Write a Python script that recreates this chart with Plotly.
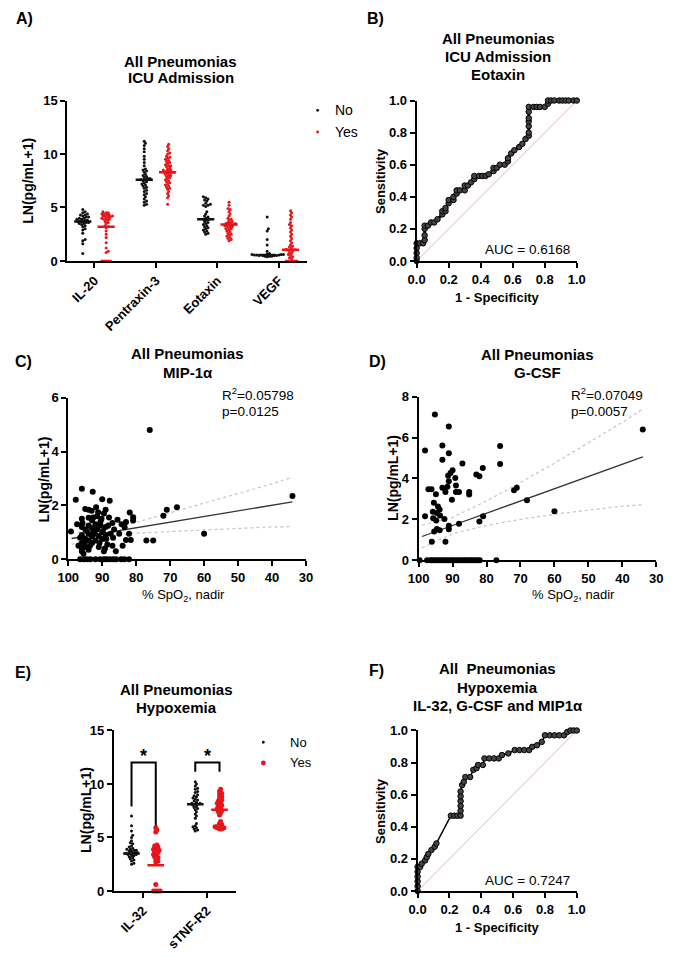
import plotly.graph_objects as go

W, H = 677, 958
FONT = "Liberation Sans"

# ---------------- Panel A: ICU admission, scatter dot plots ----------------
a_categories = ["IL-20", "Pentraxin-3", "Eotaxin", "VEGF"]
a_il20_no = [4.8, 4.6, 4.5, 4.4, 4.3, 4.3, 4.2, 4.1, 4.1, 4.0, 4.0, 3.9, 3.9, 3.8, 3.8, 3.7, 3.7, 3.7,
             3.6, 3.6, 3.5, 3.5, 3.4, 3.3, 3.2, 3.0, 2.9, 2.6, 2.0, 1.9, 1.6, 0.7]
a_il20_yes = [4.6, 4.5, 4.5, 4.4, 4.4, 4.3, 4.3, 4.2, 4.2, 4.2, 4.1, 4.1, 4.0, 4.0, 3.9, 3.9, 3.8, 3.7,
              3.6, 3.5, 3.3, 3.2, 3.1, 2.8, 2.5, 2.2, 1.7, 1.2, 0.9, 0.8, 0, 0, 0, 0, 0]
a_ptx3_no = [11.2, 11.0, 10.8, 10.5, 10.2, 9.8, 9.5, 9.2, 8.9, 8.6, 8.5, 8.4, 8.3, 8.1, 8.0, 7.9, 7.8,
             7.7, 7.7, 7.6, 7.6, 7.5, 7.4, 7.3, 7.2, 7.1, 7.0, 6.9, 6.8, 6.6, 6.5, 6.3, 6.2, 6.0, 5.8,
             5.6, 5.5, 5.3, 5.2]
a_ptx3_yes = [10.9, 10.7, 10.5, 10.3, 10.1, 10.0, 9.8, 9.7, 9.6, 9.5, 9.4, 9.3, 9.2, 9.1, 9.0, 8.9, 8.9,
              8.8, 8.7, 8.6, 8.5, 8.5, 8.4, 8.4, 8.3, 8.3, 8.3, 8.2, 8.2, 8.1, 8.0, 8.0, 7.9, 7.8, 7.7,
              7.6, 7.5, 7.4, 7.3, 7.2, 7.1, 7.0, 6.9, 6.8, 6.7, 6.5, 6.3, 6.1, 5.9, 5.3]
a_eotaxin_no = [6.0, 5.9, 5.8, 5.7, 5.6, 5.4, 5.3, 5.2, 5.2, 5.1, 4.6, 4.4, 4.2, 4.1, 4.0, 3.9, 3.9, 3.8,
                3.7, 3.6, 3.5, 3.4, 3.3, 3.2, 3.1, 3.0, 2.9, 2.8, 2.7, 2.6, 2.5]
a_eotaxin_yes = [5.5, 5.2, 4.9, 4.8, 4.6, 4.4, 4.2, 4.0, 3.9, 3.8, 3.7, 3.6, 3.6, 3.5, 3.5, 3.4, 3.4, 3.4,
                 3.3, 3.3, 3.2, 3.2, 3.1, 3.0, 3.0, 2.9, 2.8, 2.7, 2.6, 2.5, 2.4, 2.3, 2.2, 2.1, 2.0, 1.9]
a_vegf_no = [4.1, 3.0, 2.8, 2.0, 1.5, 0.9, 0.7, 0.65, 0.6, 0.6, 0.6, 0.55, 0.55, 0.55, 0.5, 0.5, 0.5,
             0.5, 0.45, 0.45, 0.45, 0.4]
a_vegf_yes = [4.7, 4.5, 4.3, 4.1, 3.9, 3.6, 3.4, 3.3, 3.1, 2.9, 2.7, 2.5, 2.3, 2.1, 1.9, 1.7, 1.5, 1.4,
              1.3, 1.2, 1.1, 1.05, 1.0, 1.0, 0.9, 0.8, 0.7, 0.6, 0.5, 0.4, 0.3, 0.2, 0, 0, 0, 0, 0, 0]
a_no_median = [3.7, 7.6, 3.9, 0.55]
a_yes_median = [3.2, 8.3, 3.4, 1.05]

# ---------------- Panel B: ROC Eotaxin ----------------
b_fpr = [0, 0, 0, 0, 0, 0.02, 0.04, 0.05, 0.05, 0.05, 0.05, 0.07, 0.09, 0.11, 0.13, 0.16, 0.16, 0.18,
         0.18, 0.20, 0.20, 0.23, 0.23, 0.25, 0.25, 0.27, 0.30, 0.30, 0.32, 0.34, 0.36, 0.36, 0.39, 0.41,
         0.43, 0.45, 0.48, 0.48, 0.50, 0.52, 0.55, 0.57, 0.57, 0.59, 0.61, 0.64, 0.66, 0.68, 0.70, 0.70,
         0.70, 0.70, 0.70, 0.70, 0.70, 0.73, 0.75, 0.77, 0.80, 0.82, 0.82, 0.84, 0.86, 0.89, 0.91, 0.93,
         0.95, 0.98, 1.0]
b_tpr = [0, 0.02, 0.05, 0.08, 0.11, 0.11, 0.11, 0.13, 0.16, 0.20, 0.22, 0.22, 0.24, 0.24, 0.26, 0.29,
         0.31, 0.31, 0.33, 0.36, 0.38, 0.38, 0.40, 0.42, 0.44, 0.44, 0.44, 0.47, 0.47, 0.49, 0.51, 0.53,
         0.53, 0.53, 0.53, 0.54, 0.56, 0.58, 0.58, 0.60, 0.60, 0.62, 0.64, 0.67, 0.69, 0.71, 0.73, 0.76,
         0.78, 0.80, 0.84, 0.87, 0.89, 0.93, 0.96, 0.96, 0.96, 0.96, 0.96, 0.98, 1.0, 1.0, 1.0, 1.0,
         1.0, 1.0, 1.0, 1.0, 1.0]
b_auc = "AUC = 0.6168"

# ---------------- Panel C: MIP-1a vs SpO2 ----------------
c_spo2 = [76, 34, 72, 71, 68, 60, 77, 75,
          99.2, 97.8, 97.4, 96, 96, 96, 96, 96, 96, 96, 95.5, 95, 95, 95, 95, 94, 94, 94, 94, 94, 94,
          93.1, 93, 93, 93, 93, 92.8, 92.5, 92, 92, 91.8, 91.5, 91.5, 91, 91, 90.5, 90.5, 90, 90, 90,
          89.5, 89.5, 89, 89, 89, 88.5, 88, 87.8, 87.5, 87, 87, 86.5, 86, 85.5, 85, 84.3, 84, 83.4, 83,
          83, 82.1, 81.9, 81.6, 80.9, 80.9,
          97, 96.5, 95.8, 95.2, 94.6, 93.6, 92.6, 92.2, 91.2, 90.8, 90.2, 89.8, 89.2, 88.2, 88.8, 86.8]
c_mip = [4.8, 2.35, 1.62, 1.84, 1.93, 0.95, 0.7, 0.7,
         1.03, 2.21, 1.3, 2.62, 1.5, 1.2, 0.9, 0.6, 0.4, 0.3, 0.2, 1.87, 1.1, 0.75, 0.45, 1.84, 1.54,
         1.25, 0.95, 0.7, 0.35, 1.8, 1.45, 1.15, 0.85, 0.6, 2.51, 1.0, 1.3, 0.7, 1.93, 1.6, 1.1, 0.85,
         0.45, 1.4, 1.25, 2.23, 1.0, 0.75, 1.7, 0.3, 1.84, 1.2, 0.9, 0.55, 1.55, 2.17, 0.95, 1.35, 0.5,
         1.1, 0.3, 1.47, 0.95, 1.3, 0.5, 1.19, 1.38, 0.71, 0.95, 1.74, 0.71, 1.56, 1.44,
         0.5, 0.8, 1.35, 0.6, 1.05, 0.5, 1.55, 0.95, 1.75, 0.6, 1.5, 1.05, 0.4, 1.25, 0.75, 0.8]
c_zero_spo2 = [96.5, 95.4, 94.5, 93.5, 92, 90.6, 89.5, 88.7, 87.8, 86.8, 85.9, 84.5, 83.5, 82.1]
c_fit_x = [99, 90, 80, 70, 60, 50, 40, 34]
c_fit_y = [0.77, 0.96, 1.17, 1.38, 1.59, 1.80, 2.00, 2.13]
c_ci_hi = [0.99, 1.08, 1.37, 1.73, 2.09, 2.45, 2.80, 3.05]
c_ci_lo = [0.55, 0.84, 0.97, 1.03, 1.09, 1.15, 1.20, 1.21]
c_stats = ["R<sup>2</sup>=0.05798", "p=0.0125"]

# ---------------- Panel D: G-CSF vs SpO2 ----------------
d_spo2 = [95.2, 91.1, 98.1, 93.0, 91.1, 93.0, 76.0, 76.0, 87.1, 81.1, 83.0, 82.1, 90.0, 90.6, 91.3,
          89.2, 91.1, 97.1, 96.2, 93.0, 91.5, 89.0, 92.1, 89.0, 88.1, 85.1, 85.1, 94.9, 90.2, 71.9,
          71.1, 68.1, 34.0, 60.0, 95.5, 94.3, 93.8, 94.6, 95.8, 93.7, 92.4, 95.7, 94.8, 98.1, 81.0,
          82.1, 88.1, 91.1, 91.1, 94.6, 93.8, 95.4, 96.1, 92.1]
d_gcsf = [7.13, 6.55, 5.37, 5.61, 5.24, 4.92, 5.59, 4.71, 4.73, 4.51, 4.19, 4.11, 4.40, 4.27, 4.14,
          4.03, 3.87, 3.47, 3.47, 3.55, 3.60, 3.66, 3.34, 3.34, 3.34, 3.34, 3.22, 3.23, 2.96, 3.42,
          3.55, 2.94, 6.40, 2.40, 2.81, 2.63, 2.48, 2.31, 2.37, 2.19, 2.02, 2.06, 1.94, 2.15, 2.15,
          1.90, 1.78, 1.69, 1.51, 1.53, 1.47, 1.40, 0.90, 0.90]
d_zero_spo2 = [99.7, 97.5, 96.5, 96, 95.3, 94.6, 94, 93.3, 92.6, 92, 91.3, 90.6, 90, 89.3, 88.6, 88,
               87.3, 86.6, 86, 85.3, 84.6, 84, 83.3, 82.6, 82, 77.1]
d_fit_x = [99, 90, 80, 70, 60, 50, 40, 34]
d_fit_y = [1.16, 1.70, 2.30, 2.90, 3.50, 4.10, 4.70, 5.06]
d_ci_hi = [1.71, 2.10, 2.90, 3.80, 4.75, 5.75, 6.75, 7.41]
d_ci_lo = [0.61, 1.30, 1.70, 2.00, 2.25, 2.45, 2.65, 2.71]
d_stats = ["R<sup>2</sup>=0.07049", "p=0.0057"]

# ---------------- Panel E: Hypoxemia dot plots ----------------
e_categories = ["IL-32", "sTNF-R2"]
e_il32_no = [7.0, 6.1, 5.6, 5.2, 5.0, 4.7, 4.5, 4.4, 4.2, 4.1, 4.0, 3.9, 3.9, 3.8, 3.8, 3.7, 3.7, 3.6,
             3.6, 3.5, 3.5, 3.5, 3.4, 3.4, 3.3, 3.3, 3.2, 3.1, 3.0, 2.9, 2.8, 2.6, 2.5]
e_il32_yes = [5.9, 5.7, 5.5, 4.3, 4.2, 4.1, 4.0, 3.9, 3.8, 3.8, 3.7, 3.6, 3.5, 3.4, 3.3, 3.2, 3.1, 3.0,
              2.8, 2.7, 0.6, 0, 0, 0, 0]
e_stnf_no = [10.2, 10.0, 9.8, 9.6, 9.5, 9.3, 9.2, 9.0, 8.9, 8.8, 8.7, 8.6, 8.5, 8.4, 8.3, 8.2, 8.2,
             8.1, 8.1, 8.0, 7.9, 7.8, 7.7, 7.6, 7.4, 7.2, 7.0, 6.8, 6.3, 6.1, 6.0, 5.9, 5.8, 5.7, 5.6]
e_stnf_yes = [9.5, 9.3, 9.1, 9.0, 8.8, 8.7, 8.5, 8.4, 8.3, 8.2, 8.1, 8.0, 7.9, 7.8, 7.7, 7.6, 7.5, 7.4,
              7.3, 7.1, 6.5, 6.3, 6.2, 6.1, 6.0, 6.0, 5.9, 5.9, 5.8, 5.8]
e_no_median = [3.5, 8.1]
e_yes_median = [2.4, 7.6]
e_bracket_top = [12.0, 12.0]
e_bracket_no_end = [7.9, 11.15]
e_bracket_yes_end = [6.1, 11.15]
e_signif = ["*", "*"]

# ---------------- Panel F: ROC combined ----------------
f_fpr = [0, 0, 0, 0, 0, 0, 0.016, 0.026, 0.047, 0.057, 0.067, 0.087, 0.107, 0.118, 0.209, 0.23, 0.25,
         0.27, 0.27, 0.27, 0.27, 0.27, 0.27, 0.28, 0.29, 0.30, 0.33, 0.35, 0.37, 0.38, 0.41, 0.42, 0.45,
         0.48, 0.51, 0.53, 0.57, 0.61, 0.64, 0.67, 0.70, 0.72, 0.75, 0.78, 0.80, 0.83, 0.86, 0.89, 0.92,
         0.94, 0.96, 0.98, 1.0]
f_tpr = [0, 0.03, 0.06, 0.09, 0.12, 0.15, 0.15, 0.17, 0.19, 0.21, 0.23, 0.255, 0.275, 0.296, 0.469,
         0.469, 0.469, 0.469, 0.50, 0.53, 0.56, 0.59, 0.62, 0.66, 0.68, 0.71, 0.71, 0.755, 0.765, 0.785,
         0.785, 0.826, 0.826, 0.826, 0.826, 0.847, 0.857, 0.878, 0.878, 0.878, 0.878, 0.898, 0.908,
         0.929, 0.97, 0.97, 0.97, 0.97, 0.97, 0.99, 1.0, 1.0, 1.0]
f_auc = "AUC = 0.7247"
roc_ref = [0, 1]

RED = "#e8161b"
BLACK = "#111111"


def xdom(p0, p1):
    return [p0 / W, p1 / W]


def ydom(p0, p1):
    return [1 - p1 / H, 1 - p0 / H]


def swarm(vals, center, xscale, yscale, sep):
    """Deterministic beeswarm offsets (layout only)."""
    order = sorted(range(len(vals)), key=lambda i: vals[i])
    placed = []
    out = [center] * len(vals)
    cands = [0.0]
    step = sep * 0.5
    for j in range(1, 120):
        cands += [j * step, -j * step]
    for i in order:
        yp = vals[i] * yscale
        for c in cands:
            ok = True
            for (py, pxx) in placed:
                if (py - yp) ** 2 + (pxx - c) ** 2 < sep * sep:
                    ok = False
                    break
            if ok:
                placed.append((yp, c))
                out[i] = center + c / xscale
                break
    return out


fig = go.Figure()

# ---------- Panel A ----------
A_XS = 190 / 3.0
A_YS = 163 / 15.0
a_no = [a_il20_no, a_ptx3_no, a_eotaxin_no, a_vegf_no]
a_yes = [a_il20_yes, a_ptx3_yes, a_eotaxin_yes, a_vegf_yes]
off = 0.19
for k in range(4):
    cx = k + 1
    xn = swarm(a_no[k], cx - off, A_XS, A_YS, 2.4)
    fig.add_trace(go.Scatter(x=xn, y=a_no[k], mode="markers", xaxis="x", yaxis="y",
                             marker=dict(size=3, color=BLACK), cliponaxis=False, showlegend=False))
    xy = swarm(a_yes[k], cx + off, A_XS, A_YS, 2.2)
    fig.add_trace(go.Scatter(x=xy, y=a_yes[k], mode="markers", xaxis="x", yaxis="y",
                             marker=dict(size=3, color=RED), cliponaxis=False, showlegend=False))
    fig.add_trace(go.Scatter(x=[cx - off - 0.14, cx - off + 0.14], y=[a_no_median[k]] * 2, mode="lines",
                             xaxis="x", yaxis="y", line=dict(color=BLACK, width=2.5), showlegend=False))
    fig.add_trace(go.Scatter(x=[cx + off - 0.14, cx + off + 0.14], y=[a_yes_median[k]] * 2, mode="lines",
                             xaxis="x", yaxis="y", line=dict(color=RED, width=2.5), showlegend=False))

# ---------- Panel B ----------
fig.add_trace(go.Scatter(x=roc_ref, y=roc_ref, mode="lines", xaxis="x2", yaxis="y2",
                         line=dict(color="#e6b3b3", width=1), showlegend=False))
fig.add_trace(go.Scatter(x=b_fpr, y=b_tpr, mode="lines+markers", xaxis="x2", yaxis="y2",
                         line=dict(color="black", width=2.5),
                         marker=dict(size=5.5, color="#444444", line=dict(color="black", width=1)),
                         cliponaxis=False, showlegend=False))

# ---------- Panel C ----------
CI_LINE = dict(color="#c4c4c4", width=1.2, dash="dot")
fig.add_trace(go.Scatter(x=c_fit_x, y=c_ci_hi, mode="lines", xaxis="x3", yaxis="y3",
                         line=CI_LINE, showlegend=False))
fig.add_trace(go.Scatter(x=c_fit_x, y=c_ci_lo, mode="lines", xaxis="x3", yaxis="y3",
                         line=CI_LINE, showlegend=False))
fig.add_trace(go.Scatter(x=c_fit_x, y=c_fit_y, mode="lines", xaxis="x3", yaxis="y3",
                         line=dict(color="#333333", width=1.3), showlegend=False))
fig.add_trace(go.Scatter(x=c_spo2 + c_zero_spo2, y=c_mip + [0] * len(c_zero_spo2), mode="markers",
                         xaxis="x3", yaxis="y3", marker=dict(size=6, color="black"),
                         cliponaxis=False, showlegend=False))

# ---------- Panel D ----------
fig.add_trace(go.Scatter(x=d_fit_x, y=d_ci_hi, mode="lines", xaxis="x4", yaxis="y4",
                         line=CI_LINE, showlegend=False))
fig.add_trace(go.Scatter(x=d_fit_x, y=d_ci_lo, mode="lines", xaxis="x4", yaxis="y4",
                         line=CI_LINE, showlegend=False))
fig.add_trace(go.Scatter(x=d_fit_x, y=d_fit_y, mode="lines", xaxis="x4", yaxis="y4",
                         line=dict(color="#333333", width=1.3), showlegend=False))
fig.add_trace(go.Scatter(x=d_spo2 + d_zero_spo2, y=d_gcsf + [0] * len(d_zero_spo2), mode="markers",
                         xaxis="x4", yaxis="y4", marker=dict(size=6, color="black"),
                         cliponaxis=False, showlegend=False))

# ---------- Panel E ----------
E_XS = 65.7
E_YS = 163 / 15.0
e_no = [e_il32_no, e_stnf_no]
e_yes = [e_il32_yes, e_stnf_yes]
offn, offy = 0.18, 0.20
for k in range(2):
    cx = k + 1
    xn = swarm(e_no[k], cx - offn, E_XS, E_YS, 2.4)
    fig.add_trace(go.Scatter(x=xn, y=e_no[k], mode="markers", xaxis="x5", yaxis="y5",
                             marker=dict(size=3, color=BLACK), cliponaxis=False, showlegend=False))
    xy = swarm(e_yes[k], cx + offy, E_XS, E_YS, 2.3)
    fig.add_trace(go.Scatter(x=xy, y=e_yes[k], mode="markers", xaxis="x5", yaxis="y5",
                             marker=dict(size=5, color=RED), cliponaxis=False, showlegend=False))
    fig.add_trace(go.Scatter(x=[cx - offn - 0.13, cx - offn + 0.13], y=[e_no_median[k]] * 2, mode="lines",
                             xaxis="x5", yaxis="y5", line=dict(color=BLACK, width=2.5), showlegend=False))
    fig.add_trace(go.Scatter(x=[cx + offy - 0.13, cx + offy + 0.13], y=[e_yes_median[k]] * 2, mode="lines",
                             xaxis="x5", yaxis="y5", line=dict(color=RED, width=2.5), showlegend=False))
    fig.add_trace(go.Scatter(x=[cx - offn, cx - offn, cx + offy, cx + offy],
                             y=[e_bracket_no_end[k], e_bracket_top[k], e_bracket_top[k], e_bracket_yes_end[k]],
                             mode="lines", xaxis="x5", yaxis="y5", line=dict(color="black", width=2),
                             showlegend=False))

# ---------- Panel F ----------
fig.add_trace(go.Scatter(x=roc_ref, y=roc_ref, mode="lines", xaxis="x6", yaxis="y6",
                         line=dict(color="#e6b3b3", width=1), showlegend=False))
fig.add_trace(go.Scatter(x=f_fpr, y=f_tpr, mode="lines+markers", xaxis="x6", yaxis="y6",
                         line=dict(color="black", width=1.5),
                         marker=dict(size=5.5, color="#444444", line=dict(color="black", width=1)),
                         cliponaxis=False, showlegend=False))

# ---------- axes ----------
tickfont = dict(family=FONT, size=13, color="black", weight="bold")


def ax(**kw):
    base = dict(showline=True, linecolor="black", linewidth=2, ticks="outside", ticklen=5,
                tickwidth=2, tickcolor="black", showgrid=False, zeroline=False, tickfont=tickfont)
    base.update(kw)
    return base


fig.update_layout(
    width=W, height=H, margin=dict(l=0, r=0, t=0, b=0),
    paper_bgcolor="white", plot_bgcolor="white", showlegend=False,
    xaxis=ax(domain=xdom(58, 305), range=[0.558, 4.458], tickvals=[1, 2, 3, 4], ticktext=a_categories,
             tickangle=-45, anchor="y"),
    yaxis=ax(domain=ydom(95, 258), range=[0, 15], tickvals=[0, 5, 10, 15], anchor="x"),
    xaxis2=ax(domain=xdom(418, 583), range=[0, 1], tickvals=[0, 0.2, 0.4, 0.6, 0.8, 1.0],
              tickformat=".1f", anchor="y2"),
    yaxis2=ax(domain=ydom(95, 258), range=[0, 1], tickvals=[0, 0.2, 0.4, 0.6, 0.8, 1.0],
              tickformat=".1f", anchor="x2"),
    xaxis3=ax(domain=xdom(59, 304), range=[100, 30], tickvals=[100, 90, 80, 70, 60, 50, 40, 30], anchor="y3"),
    yaxis3=ax(domain=ydom(397, 561), range=[0, 6], tickvals=[0, 2, 4, 6], anchor="x3"),
    xaxis4=ax(domain=xdom(420, 665), range=[100, 30], tickvals=[100, 90, 80, 70, 60, 50, 40, 30], anchor="y4"),
    yaxis4=ax(domain=ydom(396, 562), range=[0, 8], tickvals=[0, 2, 4, 6, 8], anchor="x4"),
    xaxis5=ax(domain=xdom(106, 232), range=[0.543, 2.461], tickvals=[1, 2], ticktext=e_categories,
              tickangle=-45, anchor="y5"),
    yaxis5=ax(domain=ydom(735, 898), range=[0, 15], tickvals=[0, 5, 10, 15], anchor="x5"),
    xaxis6=ax(domain=xdom(419, 583), range=[0, 1], tickvals=[0, 0.2, 0.4, 0.6, 0.8, 1.0],
              tickformat=".1f", anchor="y6"),
    yaxis6=ax(domain=ydom(735, 898), range=[0, 1], tickvals=[0, 0.2, 0.4, 0.6, 0.8, 1.0],
              tickformat=".1f", anchor="x6"),
)

ann = []


def txt(s, x, y, size=13, bold=True, xanchor="center", yanchor="middle", angle=0):
    ann.append(dict(text=("<b>%s</b>" % s) if bold else s, x=x / W, y=1 - y / H, xref="paper",
                    yref="paper", showarrow=False, xanchor=xanchor, yanchor=yanchor, textangle=angle,
                    font=dict(family=FONT, size=size, color="black")))


# panel letters
txt("A)", 3, 12, 16, xanchor="left")
txt("B)", 365, 12, 16, xanchor="left")
txt("C)", 2, 360, 16, xanchor="left")
txt("D)", 367, 360, 16, xanchor="left")
txt("E)", 2, 676, 16, xanchor="left")
txt("F)", 367, 674, 16, xanchor="left")

# titles
txt("All Pneumonias", 175, 55, 15)
txt("ICU Admission", 175, 72, 15)
txt("All Pneumonias", 502, 32, 15)
txt("ICU Admission", 502, 50, 15)
txt("Eotaxin", 502, 69, 15)
txt("All Pneumonias", 182, 352, 15)
txt("MIP-1\u03b1", 182, 371, 15)
txt("All Pneumonias", 543, 353, 15)
txt("G-CSF", 543, 371, 15)
txt("All Pneumonias", 171, 693, 15)
txt("Hypoxemia", 171, 712, 15)
txt("All  Pneumonias", 501, 672, 15)
txt("Hypoxemia", 501, 691, 15)
txt("IL-32, G-CSF and MIP1\u03b1", 502, 710, 15)

# axis titles
txt("LN(pg/mL+1)", 18, 176, 14, angle=-90)
txt("Sensitivity", 380, 177, 13, angle=-90)
txt("1 - Specificity", 501, 295, 13)
txt("LN(pg/mL+1)", 35, 480, 14, angle=-90)
txt("% SpO<sub>2</sub>, nadir", 178, 598, 13, bold=False)
txt("LN(pg/mL+1)", 393, 478, 14, angle=-90)
txt("% SpO<sub>2</sub>, nadir", 580, 598, 13, bold=False)
txt("LN(pg/mL+1)", 77, 816, 14, angle=-90)
txt("Sensitivity", 380, 817, 13, angle=-90)
txt("1 - Specificity", 501, 935, 13)

# AUC and stats
txt(b_auc, 578, 246, 13.5, bold=False, xanchor="right")
txt(f_auc, 578, 887, 13.5, bold=False, xanchor="right")
txt(c_stats[0], 215, 393, 13.5, bold=False, xanchor="left")
txt(c_stats[1], 215, 411, 13.5, bold=False, xanchor="left")
txt(d_stats[0], 575, 393, 13.5, bold=False, xanchor="left")
txt(d_stats[1], 575, 411, 13.5, bold=False, xanchor="left")

# legends
txt("No", 332, 105, 14, bold=False, xanchor="left")
txt("Yes", 332, 127, 14, bold=False, xanchor="left")
txt("No", 285, 747, 13, bold=False, xanchor="left")
txt("Yes", 285, 768, 13, bold=False, xanchor="left")

# significance asterisks (data coords)
for k in range(2):
    cx = k + 1 + (offy - offn) / 2
    ann.append(dict(text="<b>%s</b>" % e_signif[k], x=cx, y=e_bracket_top[k] + 0.6, xref="x5", yref="y5",
                    showarrow=False, xanchor="center", yanchor="middle",
                    font=dict(family=FONT, size=18, color="black")))

fig.update_layout(annotations=ann)

shapes = []


def dot(x, y, r, color):
    shapes.append(dict(type="circle", xref="paper", yref="paper", x0=(x - r) / W, x1=(x + r) / W,
                       y0=1 - (y + r) / H, y1=1 - (y - r) / H, fillcolor=color, line=dict(width=0)))


dot(316, 105, 1.5, BLACK)
dot(316, 127, 1.5, RED)
dot(260, 747, 1.5, BLACK)
dot(260, 768, 2.5, RED)
fig.update_layout(shapes=shapes)

fig.write_html("out.html")
